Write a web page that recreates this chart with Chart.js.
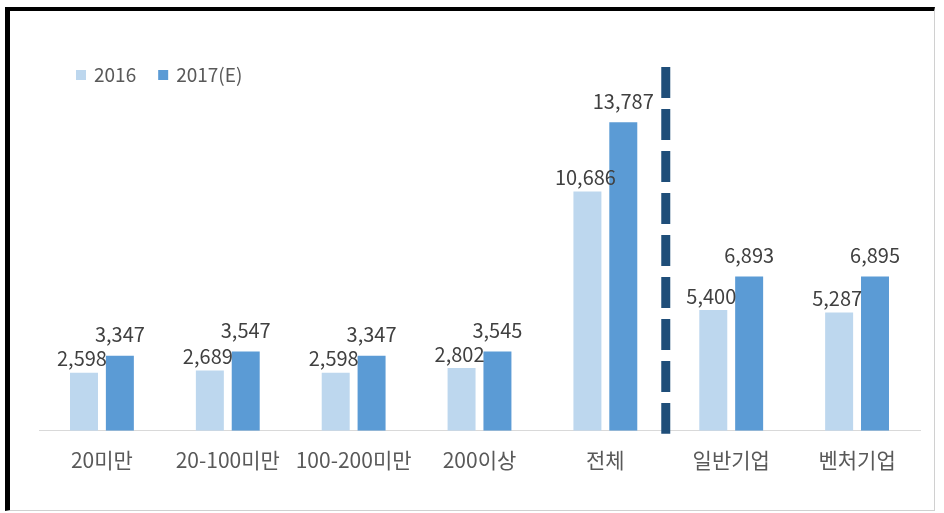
<!DOCTYPE html>
<html>
<head>
<meta charset="utf-8">
<script src="https://cdn.jsdelivr.net/npm/chart.js@4/dist/chart.umd.min.js"></script>
<style>
  html, body { margin: 0; padding: 0; background: #fff; }
  #frame {
    position: absolute; left: 5px; top: 7px; width: 930px; height: 504px;
    border-top: 4px solid #000; border-left: 5px solid #000;
    border-right: 1px solid #d0d0d0; border-bottom: 1px solid #d0d0d0;
    box-sizing: border-box;
  }
  #wrap { position: absolute; left: 0; top: 0; width: 944px; height: 513px; }
</style>
</head>
<body>
<div id="frame"></div>
<div id="wrap"><canvas id="myChart"></canvas></div>
<script>
const categories = ['20미만', '20-100미만', '100-200미만', '200이상', '전체', '일반기업', '벤처기업'];
const values2016 = [2598, 2689, 2598, 2802, 10686, 5400, 5287];
const values2017 = [3347, 3547, 3347, 3545, 13787, 6893, 6895];
const seriesNames = ['2016', '2017(E)'];
const yTicks = [0, 15000];

const fontFamily = '"Noto Sans CJK KR", "Noto Sans", sans-serif';

// value labels, dashed divider and legend
const extras = {
    id: 'extras',
    afterDatasetsDraw(chart) {
        const ctx = chart.ctx;
        const x = chart.scales.x, y = chart.scales.y;
        ctx.save();
        ctx.font = '20px ' + fontFamily;
        ctx.fillStyle = '#404040';
        ctx.textAlign = 'center';
        ctx.textBaseline = 'bottom';
        chart.data.datasets.forEach((ds, di) => {
            const meta = chart.getDatasetMeta(di);
            meta.data.forEach((bar, i) => {
                const off = di === 0 ? 4 : 11;
                ctx.fillText(ds.data[i].toLocaleString('en-US'), bar.x - (di === 0 ? 2 : 0), bar.y - off);
            });
        });

        // dashed separator between 전체 and 일반기업
        const sx = x.getPixelForValue(4.48);
        ctx.strokeStyle = '#1F4E79';
        ctx.lineWidth = 9;
        ctx.setLineDash([31, 11]);
        ctx.beginPath();
        ctx.moveTo(sx, y.getPixelForValue(16250));
        ctx.lineTo(sx, chart.chartArea.bottom + 3);
        ctx.stroke();
        ctx.setLineDash([]);

        // legend
        ctx.font = '19px ' + fontFamily;
        ctx.textAlign = 'left';
        ctx.textBaseline = 'middle';
        let lx = 76;
        const ly = 75;
        chart.data.datasets.forEach((ds) => {
            ctx.fillStyle = ds.backgroundColor;
            ctx.fillRect(lx, ly - 5, 10, 10);
            ctx.fillStyle = '#595959';
            ctx.fillText(ds.label, lx + 18, ly);
            lx += 18 + ctx.measureText(ds.label).width + 22;
        });
        ctx.restore();
    }
};

const ctx = document.getElementById('myChart');
const myChart = new Chart(ctx, {
    type: 'bar',
    data: {
        labels: categories,
        datasets: [
            {
                label: seriesNames[0],
                data: values2016,
                backgroundColor: '#BDD7EE',
                categoryPercentage: 0.57,
                barPercentage: 0.78
            },
            {
                label: seriesNames[1],
                data: values2017,
                backgroundColor: '#5B9BD5',
                categoryPercentage: 0.57,
                barPercentage: 0.78
            }
        ]
    },
    options: {
        responsive: true,
        maintainAspectRatio: false,
        animation: false,
        layout: { padding: { left: 39, right: 24, top: 95, bottom: 23 } },
        plugins: {
            legend: { display: false },
            tooltip: { enabled: false }
        },
        scales: {
            x: {
                grid: { display: false, drawTicks: false },
                border: { display: true, color: '#D9D9D9', width: 1 },
                ticks: {
                    color: '#595959',
                    padding: 17,
                    font: { family: fontFamily, size: 21 }
                }
            },
            y: {
                display: false,
                min: yTicks[0],
                max: yTicks[1]
            }
        }
    },
    plugins: [extras]
});
</script>
</body>
</html>
